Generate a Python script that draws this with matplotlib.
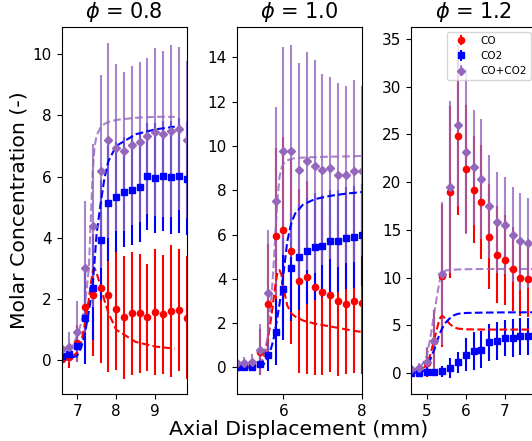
import matplotlib
matplotlib.use("Agg")
import matplotlib.pyplot as plt

# measured points (x every 0.2 mm)
x_08 = [6.6, 6.8, 7.0, 7.2, 7.4, 7.6, 7.8, 8.0, 8.2, 8.4, 8.6, 8.8, 9.0, 9.2, 9.4, 9.6, 9.8]
co_08 = [0.05, 0.1, 0.55, 1.73, 2.14, 2.35, 2.12, 1.68, 1.40, 1.53, 1.53, 1.40, 1.58, 1.50, 1.61, 1.64, 1.39]
co_08_err = [0.2, 0.35, 0.6, 1.3, 2.0, 2.45, 2.5, 2.0, 2.0, 2.0, 1.95, 1.75, 2.05, 1.95, 2.15, 2.0, 2.0]
co2_08 = [0.13, 0.22, 0.46, 1.37, 2.35, 3.93, 5.14, 5.33, 5.5, 5.55, 5.66, 6.01, 5.96, 6.01, 5.98, 6.03, 5.93]
co2_08_err = [0.1, 0.15, 0.4, 1.5, 1.7, 1.95, 1.9, 1.8, 1.8, 1.8, 1.8, 1.75, 1.8, 1.8, 1.85, 1.88, 1.85]
sum_08 = [0.38, 0.44, 0.93, 3.0, 4.4, 6.17, 7.18, 6.94, 6.83, 7.02, 7.13, 7.32, 7.45, 7.40, 7.49, 7.56, 7.21]
sum_08_err = [0.3, 0.5, 1.0, 2.2, 2.65, 3.14, 3.18, 2.73, 2.6, 2.6, 2.6, 2.54, 2.74, 2.71, 2.81, 2.66, 2.57]

x_10 = [4.8, 5.0, 5.2, 5.4, 5.6, 5.8, 6.0, 6.2, 6.4, 6.6, 6.8, 7.0, 7.2, 7.4, 7.6, 7.8, 8.0]
co_10 = [0.02, 0.05, 0.1, 0.7, 2.88, 5.94, 6.21, 5.27, 3.89, 4.07, 3.63, 3.41, 3.28, 2.99, 2.88, 2.98, 2.92]
co_10_err = [0.1, 0.1, 0.2, 1.05, 2.7, 3.97, 4.2, 4.2, 4.15, 4.36, 3.97, 3.73, 3.5, 3.38, 3.19, 3.25, 3.2]
co2_10 = [0.0, 0.0, 0.02, 0.17, 0.54, 1.6, 3.54, 4.51, 5.0, 5.26, 5.46, 5.5, 5.71, 5.71, 5.83, 5.9, 5.98]
co2_10_err = [0.05, 0.05, 0.05, 0.15, 0.7, 1.5, 2.3, 2.4, 2.4, 2.4, 2.4, 2.3, 2.3, 2.3, 2.3, 2.3, 2.3]
sum_10 = [0.21, 0.21, 0.24, 0.81, 3.36, 7.51, 9.77, 9.77, 8.9, 9.32, 9.08, 8.93, 9.01, 8.71, 8.71, 8.87, 8.87]
sum_10_err = [0.2, 0.25, 0.35, 1.14, 2.85, 4.27, 4.71, 4.8, 4.87, 4.93, 4.81, 4.32, 4.12, 4.16, 4.01, 4.11, 3.85]

x_12 = [4.6, 4.8, 5.0, 5.2, 5.4, 5.6, 5.8, 6.0, 6.2, 6.4, 6.6, 6.8, 7.0, 7.2, 7.4, 7.6, 7.8]
co_12 = [0.1, 0.2, 1.1, 3.32, 10.2, 18.97, 24.87, 21.38, 19.21, 17.9, 14.25, 12.4, 11.87, 10.86, 9.95, 9.89, 9.5]
co_12_err = [0.2, 0.4, 1.5, 3.3, 7.5, 9.0, 8.3, 6.7, 5.6, 6.0, 5.5, 5.1, 4.7, 4.4, 4.0, 4.0, 4.0]
co2_12 = [0.0, 0.0, 0.07, 0.07, 0.17, 0.52, 1.15, 1.92, 2.27, 2.45, 3.21, 3.39, 3.67, 3.67, 3.84, 3.84, 3.9]
co2_12_err = [0.1, 0.1, 0.2, 0.3, 0.6, 1.05, 1.1, 1.7, 2.0, 1.9, 1.96, 2.0, 1.9, 1.95, 1.97, 1.97, 1.95]
sum_12 = [0.42, 0.52, 1.2, 3.31, 10.4, 19.45, 26.0, 23.2, 21.55, 20.3, 17.46, 15.8, 15.47, 14.5, 13.8, 13.62, 13.3]
sum_12_err = [0.4, 0.5, 1.5, 3.3, 7.5, 9.0, 8.5, 8.6, 6.05, 6.3, 5.4, 5.3, 5.1, 4.95, 5.1, 4.7, 4.6]

# model curves (dashed)
mx_08 = [6.6, 6.8, 7.0, 7.1, 7.2, 7.3, 7.35, 7.4, 7.45, 7.5, 7.6, 7.7, 7.8, 8.0, 8.5, 9.0, 9.5]
m_co_08 = [0.0, 0.05, 0.25, 0.55, 1.2, 2.0, 2.5, 2.9, 3.0, 2.85, 2.4, 1.95, 1.55, 1.0, 0.6, 0.45, 0.38]
m_co2_08 = [0.0, 0.05, 0.15, 0.4, 0.87, 1.6, 2.0, 2.5, 3.3, 4.15, 5.1, 5.95, 6.5, 7.0, 7.38, 7.54, 7.63]
m_sum_08 = [0.05, 0.25, 0.8, 1.2, 1.8, 3.0, 4.6, 6.2, 7.0, 7.35, 7.6, 7.72, 7.78, 7.85, 7.92, 7.95, 7.95]

mx_10 = [4.8, 5.0, 5.2, 5.4, 5.5, 5.6, 5.7, 5.75, 5.8, 5.85, 5.9, 5.95, 6.0, 6.1, 6.2, 6.3, 6.5, 6.8, 7.2, 7.6, 8.0]
m_co_10 = [0.0, 0.0, 0.02, 0.1, 0.4, 1.2, 2.4, 3.1, 3.8, 4.3, 4.4, 4.2, 3.6, 2.8, 2.45, 2.3, 2.12, 1.98, 1.85, 1.72, 1.6]
m_co2_10 = [0.0, 0.0, 0.0, 0.02, 0.15, 0.4, 0.95, 1.3, 1.8, 2.3, 2.85, 3.5, 4.2, 5.7, 6.5, 6.95, 7.35, 7.6, 7.75, 7.85, 7.92]
m_sum_10 = [0.0, 0.0, 0.02, 0.15, 0.5, 1.4, 3.3, 4.6, 6.2, 7.6, 8.6, 9.0, 9.2, 9.35, 9.42, 9.45, 9.48, 9.5, 9.52, 9.53, 9.55]

mx_12 = [4.6, 4.8, 5.0, 5.1, 5.2, 5.3, 5.35, 5.4, 5.5, 5.6, 5.7, 5.8, 6.0, 6.5, 7.0, 7.8]
m_co_12 = [0.0, 0.15, 0.8, 2.0, 3.6, 5.2, 5.8, 6.0, 5.6, 5.1, 4.8, 4.65, 4.58, 4.55, 4.55, 4.55]
m_co2_12 = [0.0, 0.05, 0.35, 1.5, 2.5, 3.7, 4.25, 4.7, 5.35, 5.75, 6.05, 6.2, 6.29, 6.33, 6.35, 6.36]
m_sum_12 = [0.0, 0.3, 1.7, 3.8, 6.4, 8.9, 10.0, 10.5, 10.75, 10.8, 10.83, 10.85, 10.87, 10.9, 10.9, 10.9]

titles = [r"$\phi$ = 0.8", r"$\phi$ = 1.0", r"$\phi$ = 1.2"]
purple = "tab:purple"
purple_light = (0.58, 0.40, 0.74, 0.8)

panels = [
    (x_08, co_08, co_08_err, co2_08, co2_08_err, sum_08, sum_08_err, mx_08, m_co_08, m_co2_08, m_sum_08),
    (x_10, co_10, co_10_err, co2_10, co2_10_err, sum_10, sum_10_err, mx_10, m_co_10, m_co2_10, m_sum_10),
    (x_12, co_12, co_12_err, co2_12, co2_12_err, sum_12, sum_12_err, mx_12, m_co_12, m_co2_12, m_sum_12),
]
ylims = [(-1.1, 10.9), (-1.2, 15.4), (-2.2, 36.3)]
xticks = [[7, 8, 9], [6, 8], [5, 6, 7]]
yticks = [[0, 2, 4, 6, 8, 10], [0, 2, 4, 6, 8, 10, 12, 14], [0, 5, 10, 15, 20, 25, 30, 35]]

fig = plt.figure(figsize=(5.32, 4.41), dpi=100)
lefts = [61.5, 236.5, 411]
axes = []
for i, (x, co, coe, co2, co2e, s, se, mx, mco, mco2, msum) in enumerate(panels):
    ax = fig.add_axes([lefts[i] / 532, 47 / 441, 125 / 532, 367.5 / 441])
    ax.errorbar(x, co, yerr=coe, fmt="o", color="red", ms=4.5, label="CO")
    ax.errorbar(x, co2, yerr=co2e, fmt="s", color="blue", ms=4.5, label="CO2")
    ax.errorbar(x, s, yerr=se, fmt="D", color=purple, ecolor=purple_light, ms=4.5, label="CO+CO2")
    ax.plot(mx, mco, "--", color="red")
    ax.plot(mx, mco2, "--", color="blue")
    ax.plot(mx, msum, "--", color=purple_light)
    ax.set_xlim(x[0], x[-1])
    ax.set_ylim(*ylims[i])
    ax.set_xticks(xticks[i])
    ax.set_yticks(yticks[i])
    ax.tick_params(labelsize=11)
    ax.set_title(titles[i], fontsize=15)
    axes.append(ax)

axes[0].set_ylabel("Molar Concentration (-)", fontsize=14.7, labelpad=3)
axes[1].set_xlabel("Axial Displacement (mm)", fontsize=14.7, labelpad=1)
axes[2].legend(loc="upper right", fontsize=7.5)

fig.savefig("out.png", dpi=100)
